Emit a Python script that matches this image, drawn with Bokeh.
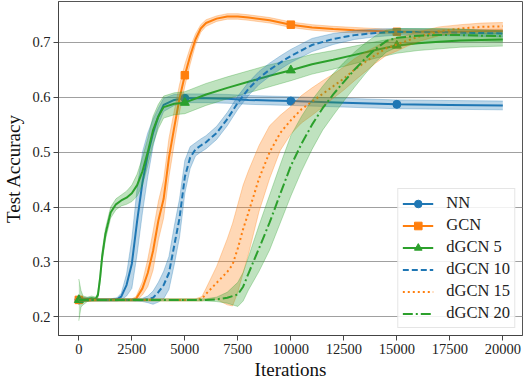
import numpy as np
from bokeh.plotting import figure
from bokeh.models import Range1d, FixedTicker, Legend, LegendItem
from bokeh.embed import file_html
from bokeh.resources import INLINE

# ---------------- data ----------------
NN_x = [0, 200, 500, 1000, 1500, 1800, 2000, 2250, 2500, 2750, 3000, 3250, 3500, 3750, 4000,
        4500, 5000, 6000, 7000, 8000, 9000, 10000, 12500, 15000, 17500, 20000]
NN_y = [0.231, 0.232, 0.233, 0.231, 0.231, 0.232, 0.237, 0.258, 0.297, 0.375, 0.445, 0.495, 0.535,
        0.565, 0.586, 0.595, 0.598, 0.598, 0.597, 0.595, 0.594, 0.593, 0.590, 0.587, 0.586, 0.585]
NN_s = [0.006, 0.003, 0.002, 0.002, 0.002, 0.003, 0.006, 0.02, 0.045, 0.06, 0.055, 0.04, 0.025,
        0.015, 0.012, 0.01, 0.008, 0.008, 0.008, 0.008, 0.008, 0.008, 0.008, 0.008, 0.008, 0.008]

GCN_x = [0, 200, 500, 1000, 2000, 2500, 2700, 3000, 3250, 3500, 3750, 4000, 4250, 4500, 4750,
         5000, 5250, 5500, 5750, 6000, 6500, 7000, 7500, 8000, 9000, 10000, 11000, 12000, 13000,
         15000, 17500, 20000]
GCN_y = [0.231, 0.232, 0.231, 0.231, 0.231, 0.231, 0.233, 0.252, 0.28, 0.32, 0.375, 0.415, 0.49,
         0.545, 0.598, 0.64, 0.675, 0.705, 0.725, 0.735, 0.743, 0.747, 0.747, 0.745, 0.740, 0.732,
         0.727, 0.724, 0.722, 0.719, 0.719, 0.720]
GCN_s = [0.008, 0.004, 0.002, 0.002, 0.002, 0.002, 0.004, 0.012, 0.025, 0.035, 0.035, 0.035, 0.035,
         0.03, 0.025, 0.02, 0.015, 0.01, 0.007, 0.006, 0.005, 0.005, 0.005, 0.005, 0.005, 0.005,
         0.005, 0.005, 0.005, 0.004, 0.004, 0.004]

D5_x = [0, 100, 200, 400, 600, 800, 900, 1000, 1100, 1250, 1500, 1750, 2000, 2250, 2500, 2750,
        3000, 3250, 3500, 3750, 4000, 4500, 5000, 6000, 7000, 8000, 9000, 10000, 11000, 12000,
        13000, 14000, 15000, 16000, 17000, 18000, 19000, 20000]
D5_y = [0.231, 0.233, 0.230, 0.232, 0.234, 0.233, 0.24, 0.27, 0.31, 0.35, 0.39, 0.405, 0.412,
        0.417, 0.425, 0.44, 0.465, 0.50, 0.54, 0.565, 0.582, 0.588, 0.590, 0.605, 0.617, 0.628,
        0.639, 0.649, 0.660, 0.668, 0.677, 0.686, 0.694, 0.698, 0.701, 0.703, 0.704, 0.705]
D5_s = [0.038, 0.015, 0.008, 0.004, 0.004, 0.003, 0.005, 0.008, 0.01, 0.01, 0.01, 0.01, 0.01,
        0.012, 0.015, 0.02, 0.025, 0.025, 0.025, 0.022, 0.02, 0.02, 0.02, 0.02, 0.02, 0.02, 0.02,
        0.019, 0.018, 0.017, 0.016, 0.015, 0.014, 0.013, 0.013, 0.012, 0.012, 0.012]

D10_x = [0, 500, 1000, 2000, 2500, 3000, 3250, 3500, 3750, 4000, 4250, 4500, 4750, 5000, 5250,
         5500, 5750, 6000, 6500, 7000, 7500, 8000, 8500, 9000, 9500, 10000, 11000, 12000, 13000,
         14000, 15000, 17500, 20000]
D10_y = [0.231, 0.231, 0.231, 0.231, 0.231, 0.231, 0.232, 0.235, 0.245, 0.258, 0.28, 0.33, 0.38,
         0.455, 0.49, 0.505, 0.512, 0.518, 0.535, 0.56, 0.59, 0.615, 0.635, 0.65, 0.663, 0.675,
         0.695, 0.706, 0.713, 0.717, 0.719, 0.718, 0.716]
D10_s = [0.004, 0.002, 0.002, 0.002, 0.002, 0.003, 0.006, 0.012, 0.018, 0.025, 0.03, 0.035, 0.035,
         0.03, 0.02, 0.012, 0.012, 0.012, 0.012, 0.012, 0.012, 0.012, 0.012, 0.012, 0.012, 0.012,
         0.012, 0.01, 0.008, 0.007, 0.006, 0.006, 0.006]

D15_x = [0, 1000, 2000, 3000, 4000, 5000, 5500, 5800, 6000, 6500, 7000, 7250, 7500, 7750, 8000,
         8500, 9000, 9500, 10000, 10500, 11000, 11500, 12000, 12500, 13000, 13500, 14000, 14500,
         15000, 15500, 16000, 17000, 18000, 19000, 20000]
D15_y = [0.231, 0.231, 0.231, 0.231, 0.231, 0.231, 0.231, 0.233, 0.242, 0.262, 0.282, 0.295, 0.325,
         0.36, 0.39, 0.452, 0.50, 0.535, 0.558, 0.578, 0.592, 0.606, 0.62, 0.634, 0.65, 0.664,
         0.677, 0.689, 0.696, 0.703, 0.71, 0.72, 0.725, 0.728, 0.729]
D15_s = [0.003, 0.002, 0.002, 0.002, 0.002, 0.002, 0.002, 0.004, 0.01, 0.03, 0.06, 0.075, 0.08,
         0.08, 0.076, 0.06, 0.048, 0.032, 0.025, 0.025, 0.025, 0.024, 0.022, 0.021, 0.02, 0.018,
         0.015, 0.013, 0.012, 0.01, 0.009, 0.008, 0.007, 0.007, 0.007]

D20_x = [0, 1000, 2000, 3000, 4000, 5000, 6000, 6500, 7000, 7500, 7750, 8000, 8500, 9000, 9500,
         10000, 10500, 11000, 11500, 12000, 12500, 13000, 13500, 14000, 14500, 15000, 16000,
         17000, 18000, 19000, 20000]
D20_y = [0.231, 0.231, 0.231, 0.231, 0.231, 0.231, 0.231, 0.232, 0.235, 0.241, 0.255, 0.279,
         0.325, 0.372, 0.424, 0.475, 0.515, 0.55, 0.58, 0.605, 0.628, 0.65, 0.67, 0.688, 0.702,
         0.708, 0.712, 0.713, 0.713, 0.712, 0.711]
D20_s = [0.003, 0.002, 0.002, 0.002, 0.002, 0.002, 0.002, 0.004, 0.01, 0.022, 0.026, 0.03, 0.042,
         0.05, 0.053, 0.055, 0.05, 0.045, 0.04, 0.038, 0.035, 0.032, 0.028, 0.024, 0.02, 0.017,
         0.013, 0.012, 0.011, 0.01, 0.01]

MARK_AT = [0, 5000, 10000, 15000]
X_TICKS = [0, 2500, 5000, 7500, 10000, 12500, 15000, 17500, 20000]
Y_TICKS = [0.2, 0.3, 0.4, 0.5, 0.6, 0.7]

BLUE, ORANGE, GREEN = "#1f77b4", "#ff7f0e", "#2ca02c"
FONT = "Liberation Serif"

p = figure(width=523, height=382, output_backend="svg", toolbar_location=None,
           x_range=Range1d(-960, 20928), y_range=Range1d(0.1662, 0.7742))
p.min_border_left = 50
p.min_border_right = 1
p.min_border_top = 1
p.min_border_bottom = 45
p.background_fill_color = "white"
p.outline_line_color = "#555555"
p.outline_line_width = 1

p.xgrid.visible = False
p.ygrid.grid_line_color = "#a0a0a0"
p.ygrid.grid_line_width = 1.2

for ax in (p.xaxis, p.yaxis):
    ax.axis_line_color = "#444444"
    ax.major_tick_line_color = "#444444"
    ax.minor_tick_line_color = None
    ax.major_tick_out = 5
    ax.major_tick_in = 0
    ax.major_label_text_font = FONT
    ax.major_label_text_font_size = "14.5px"
    ax.major_label_text_color = "#222222"
    ax.axis_label_text_font = FONT
    ax.axis_label_text_font_size = "19px"
    ax.axis_label_text_font_style = "normal"
    ax.axis_label_text_color = "#111111"
    ax.major_label_standoff = 3

p.xaxis.axis_label_standoff = 2
p.yaxis.axis_label_standoff = 5

p.xaxis.ticker = FixedTicker(ticks=X_TICKS)
p.yaxis.ticker = FixedTicker(ticks=Y_TICKS)
p.xaxis.axis_label = "Iterations"
p.yaxis.axis_label = "Test Accuracy"

series = [
    ("NN", NN_x, NN_y, NN_s, BLUE, None, "circle", 8),
    ("GCN", GCN_x, GCN_y, GCN_s, ORANGE, None, "square", 7.5),
    ("dGCN 5", D5_x, D5_y, D5_s, GREEN, None, "triangle", 9),
    ("dGCN 10", D10_x, D10_y, D10_s, BLUE, "6 3", None, 0),
    ("dGCN 15", D15_x, D15_y, D15_s, ORANGE, "2 3", None, 0),
    ("dGCN 20", D20_x, D20_y, D20_s, GREEN, "10 3 2 3", None, 0),
]

items = []
for label, xs, ys, ss, col, dash, marker, msize in series:
    xs = np.array(xs, dtype=float)
    ys = np.array(ys, dtype=float)
    ss = np.array(ss, dtype=float)
    lo, hi = ys - ss, ys + ss
    p.varea(x=xs, y1=lo, y2=hi, fill_color=col, fill_alpha=0.3)
    p.line(xs, lo, line_color=col, line_alpha=0.3, line_width=1)
    p.line(xs, hi, line_color=col, line_alpha=0.3, line_width=1)
    kw = dict(line_color=col, line_width=2)
    if dash:
        kw["line_dash"] = dash
    lr = p.line(xs, ys, **kw)
    rends = [lr]
    if marker:
        idx = [i for i, x in enumerate(xs) if x in MARK_AT]
        mr = p.scatter(xs[idx], ys[idx], marker=marker, size=msize, fill_color=col,
                       line_color=col)
        rends.append(mr)
    items.append(LegendItem(label=label, renderers=rends))

legend = Legend(items=items, location="bottom_right")
legend.label_text_font = FONT
legend.label_text_font_size = "16.5px"
legend.label_text_color = "#222222"
legend.glyph_width = 31
legend.glyph_height = 19
legend.spacing = 2
legend.padding = 4
legend.label_standoff = 13
legend.margin = 7
legend.border_line_color = "#cccccc"
legend.border_line_width = 1
legend.background_fill_alpha = 0.85
p.add_layout(legend)

open("out.html", "w").write(file_html(p, INLINE))
